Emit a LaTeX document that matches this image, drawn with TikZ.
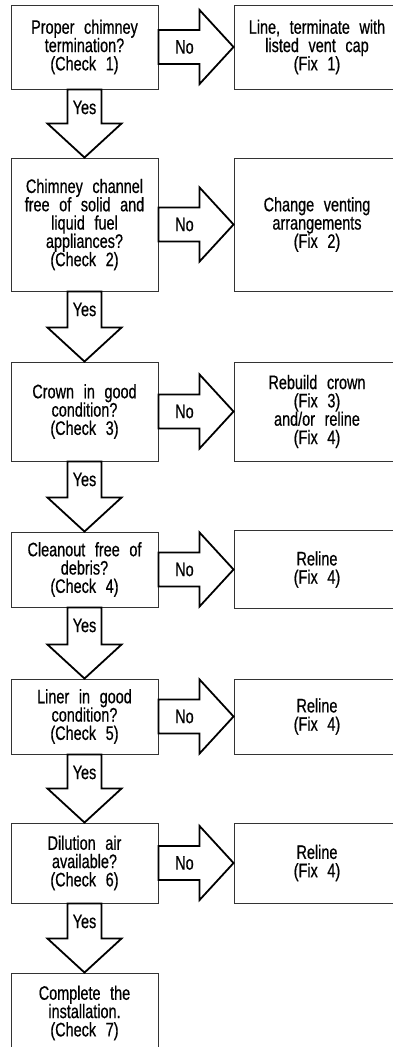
\documentclass[tikz,border=0pt]{standalone}
\usepackage{fontspec}
\setmainfont{Liberation Sans}[FakeStretch=0.74,WordSpace=2.4,FakeBold=0.6]
\usetikzlibrary{calc}
\tikzset{
  txt/.style={font=\fontsize{19.5}{18.3}\selectfont},
  box/.style={txt, draw=black!80, line width=0.9pt, minimum width=147pt, inner sep=0pt, align=center},
  fixbox/.style={box, minimum width=166pt},
  bigarrow/.style={draw=black, line width=1.8pt, line join=miter, fill=white},
  lbl/.style={txt, inner sep=0pt}
}
\newcommand{\yesarrow}[2]{%
  \draw[bigarrow] ($(#1.south)+(-17,0)$) -- ($(#2.north)+(-17,-34)$) -- ($(#2.north)+(-37,-34)$)
    -- (#2.north) -- ($(#2.north)+(37,-34)$) -- ($(#2.north)+(17,-34)$) -- ($(#1.south)+(17,0)$) -- cycle;
  \node[lbl] at ($(#1.south)+(0,18)$) {Yes};}
\newcommand{\noarrow}[2]{%
  \draw[bigarrow] ($(#1.east)+(0,-17)$) -- ($(#2.west)+(-34,-17)$) -- ($(#2.west)+(-34,-37)$)
    -- (#2.west) -- ($(#2.west)+(-34,37)$) -- ($(#2.west)+(-34,17)$) -- ($(#1.east)+(0,17)$) -- cycle;
  \node[lbl] at ($(#1.east)+(26,0)$) {No};}
\begin{document}
\begin{tikzpicture}[x=1pt,y=-1pt]
\useasboundingbox (0,0) rectangle (393,1047);
\node[box, minimum height=84pt] (c1) at (84.5,47) {Proper chimney\\termination?\\(Check 1)};
\node[fixbox, minimum height=84pt] (f1) at (317,47) {Line, terminate with\\listed vent cap\\(Fix 1)};
\node[box, minimum height=133pt] (c2) at (84.5,224.5) {Chimney channel\\free of solid and\\liquid fuel\\appliances?\\(Check 2)};
\node[fixbox, minimum height=133pt] (f2) at (317,224.5) {Change venting\\arrangements\\(Fix 2)};
\node[box, minimum height=99pt] (c3) at (84.5,411.5) {Crown in good\\condition?\\(Check 3)};
\node[fixbox, minimum height=99pt] (f3) at (317,411.5) {Rebuild crown\\(Fix 3)\\and/or reline\\(Fix 4)};
\node[box, minimum height=75pt] (c4) at (84.5,569.5) {Cleanout free of\\debris?\\(Check 4)};
\node[fixbox, minimum height=78pt] (f4) at (317,569.5) {Reline\\(Fix 4)};
\node[box, minimum height=75pt] (c5) at (84.5,716.5) {Liner in good\\condition?\\(Check 5)};
\node[fixbox, minimum height=75pt] (f5) at (317,716.5) {Reline\\(Fix 4)};
\node[box, minimum height=80pt] (c6) at (84.5,863) {Dilution air\\available?\\(Check 6)};
\node[fixbox, minimum height=80pt] (f6) at (317,863) {Reline\\(Fix 4)};
\node[box, minimum height=80pt] (c7) at (84.5,1013) {Complete the\\installation.\\(Check 7)};
\noarrow{c1}{f1}
\noarrow{c2}{f2}
\noarrow{c3}{f3}
\noarrow{c4}{f4}
\noarrow{c5}{f5}
\noarrow{c6}{f6}
\yesarrow{c1}{c2}
\yesarrow{c2}{c3}
\yesarrow{c3}{c4}
\yesarrow{c4}{c5}
\yesarrow{c5}{c6}
\yesarrow{c6}{c7}
\end{tikzpicture}
\end{document}
